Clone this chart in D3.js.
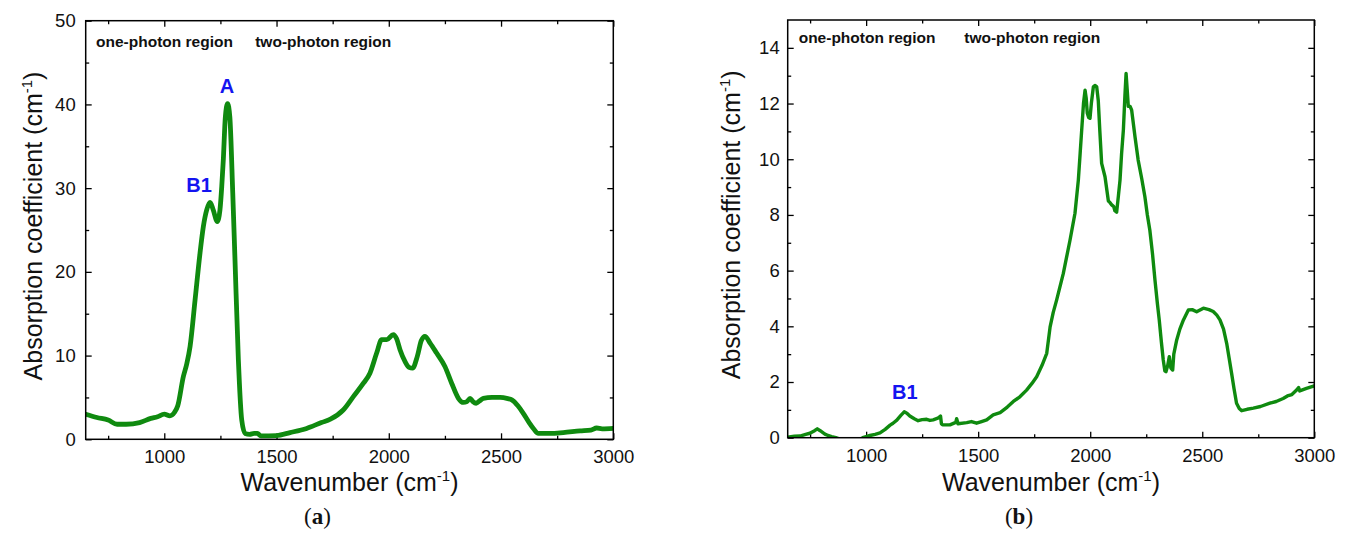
<!DOCTYPE html>
<html>
<head>
<meta charset="utf-8">
<script src="https://cdn.jsdelivr.net/npm/d3@7"></script>
<style>
body { margin: 0; background: #fff; }
svg text { font-family: "Liberation Sans", Arial, sans-serif; }
</style>
</head>
<body>
<div id="chart"></div>
<script>
// panel (a) spectrum
const wnA = [650, 700, 750, 790, 830, 890, 940, 970, 1000, 1025, 1045, 1060, 1085, 1100, 1115, 1137, 1159, 1174, 1189, 1204,
  1218, 1236, 1248, 1256, 1263, 1272, 1282, 1292, 1305, 1315, 1330, 1345, 1360, 1380, 1400, 1415, 1430, 1500, 1560, 1634,
  1700, 1740, 1797, 1842, 1887, 1916, 1946, 1968, 1991, 2020, 2035, 2050, 2072, 2090, 2106, 2127, 2145, 2161, 2184, 2213,
  2250, 2280, 2310, 2332, 2348, 2362, 2375, 2389, 2405, 2421, 2460, 2496, 2530, 2548, 2575, 2599, 2625, 2644, 2666, 2720,
  2777, 2852, 2900, 2926, 2950, 3000];
const absA = [3.0, 2.6, 2.3, 1.8, 1.8, 2.0, 2.5, 2.7, 3.0, 2.8, 3.2, 4.0, 7.5, 9.0, 11.1, 16.6, 22.2, 25.4, 27.4, 28.3,
  27.4, 26.0, 27.4, 30.2, 33.4, 38.5, 40.1, 38.5, 29.4, 21.4, 9.5, 2.3, 0.7, 0.6, 0.7, 0.7, 0.4, 0.45, 0.8, 1.3,
  2.0, 2.4, 3.5, 5.1, 6.7, 7.9, 10.3, 11.9, 11.9, 12.5, 12.0, 10.7, 9.3, 8.6, 8.5, 9.9, 11.8, 12.3, 11.5, 10.3,
  8.7, 6.7, 4.9, 4.4, 4.5, 4.9, 4.5, 4.3, 4.6, 4.9, 5.0, 5.0, 4.85, 4.7, 4.0, 3.1, 2.0, 1.3, 0.7, 0.7,
  0.8, 1.0, 1.1, 1.35, 1.25, 1.3];

// panel (b) spectrum
const wnB = [650, 680, 705, 730, 749, 770, 782, 795, 816, 830, 846, 865, 883, 920, 960, 985, 1000, 1017, 1040, 1062,
  1085, 1107, 1120, 1137, 1155, 1170, 1182, 1195, 1215, 1232, 1250, 1270, 1285, 1299, 1320, 1332, 1336, 1341, 1374, 1400,
  1404, 1410, 1449, 1470, 1493, 1515, 1538, 1567, 1598, 1630, 1657, 1686, 1716, 1740, 1761, 1785, 1806, 1821, 1835, 1850,
  1880, 1895, 1910, 1932, 1947, 1955, 1962, 1970, 1977, 1982, 1987, 1993, 1999, 2005, 2014, 2022, 2029, 2036, 2043, 2051,
  2066, 2081, 2088, 2096, 2105, 2110, 2118, 2126, 2133, 2140, 2148, 2155, 2160, 2165, 2170, 2178, 2185, 2200, 2214, 2230,
  2244, 2255, 2266, 2278, 2289, 2300, 2308, 2318, 2326, 2333, 2338, 2346, 2353, 2360, 2368, 2373, 2386, 2400, 2416, 2438,
  2455, 2475, 2505, 2530, 2549, 2565, 2579, 2595, 2609, 2620, 2631, 2642, 2653, 2665, 2676, 2700, 2728, 2760, 2802, 2830,
  2861, 2880, 2900, 2921, 2930, 2935, 2965, 3000];
const absB = [0.02, 0.05, 0.06, 0.12, 0.16, 0.25, 0.32, 0.25, 0.13, 0.08, 0.04, 0.0, -0.05, -0.15, -0.1, 0.0, 0.04, 0.08, 0.12, 0.17,
  0.3, 0.45, 0.52, 0.63, 0.8, 0.93, 0.88, 0.78, 0.68, 0.61, 0.65, 0.66, 0.62, 0.64, 0.7, 0.78, 0.5, 0.46, 0.46, 0.55,
  0.68, 0.5, 0.54, 0.58, 0.52, 0.58, 0.64, 0.82, 0.9, 1.1, 1.3, 1.47, 1.71, 1.95, 2.19, 2.6, 3.03, 3.98, 4.5, 4.94,
  5.9, 6.5, 7.1, 8.06, 9.25, 10.2, 11.05, 12.0, 12.48, 12.2, 11.65, 11.5, 11.47, 12.0, 12.6, 12.65, 12.6, 12.1, 11.0, 9.85,
  9.37, 8.5, 8.45, 8.36, 8.3, 8.15, 8.1, 8.7, 9.25, 10.2, 11.05, 12.3, 13.08, 12.5, 11.9, 11.9, 11.76, 10.8, 9.97, 9.3,
  8.65, 8.0, 7.46, 6.6, 5.66, 4.8, 4.23, 3.4, 2.79, 2.4, 2.37, 2.6, 2.91, 2.5, 2.43, 3.0, 3.51, 3.9, 4.23, 4.59,
  4.6, 4.52, 4.65, 4.6, 4.53, 4.4, 4.23, 3.9, 3.39, 2.85, 2.31, 1.75, 1.24, 1.05, 0.97, 1.02, 1.06, 1.12, 1.24, 1.3,
  1.41, 1.5, 1.55, 1.71, 1.8, 1.68, 1.77, 1.86];

const xMajor = [1000, 1500, 2000, 2500, 3000];
const xMinor = [750, 1250, 1750, 2250, 2750];
const yMajorA = [0, 10, 20, 30, 40, 50];
const yMinorA = [5, 15, 25, 35, 45];
const yMajorB = [0, 2, 4, 6, 8, 10, 12, 14];
const yMinorB = [1, 3, 5, 7, 9, 11, 13];

const svg = d3.select("#chart")
    .append("svg")
    .attr("width", 1352)
    .attr("height", 534);

const green = "#0f8a0f";

function drawPanel(p) {
    const x = d3.scaleLinear().domain([650, 3000]).range([p.left, p.right]);
    const y = d3.scaleLinear().domain([0, p.yMax]).range([p.bottom, p.top]);
    const g = svg.append("g");

    // tick marks point inward on all four sides
    const addAxis = (axis, tx, ty, labels) => {
        const a = g.append("g").attr("transform", `translate(${tx},${ty})`).call(axis);
        a.select(".domain").remove();
        a.selectAll(".tick line").attr("stroke", "#000").attr("stroke-width", 1.3);
        a.selectAll("text").attr("font-size", labels ? "18.5px" : 0).attr("fill", "#111");
        return a;
    };
    addAxis(d3.axisBottom(x).tickValues(xMajor).tickSize(-6).tickPadding(11).tickFormat(d3.format("d")), 0, p.bottom, true);
    addAxis(d3.axisBottom(x).tickValues(xMinor).tickSize(-3.5).tickFormat(""), 0, p.bottom, false);
    addAxis(d3.axisTop(x).tickValues(xMajor).tickSize(-6).tickFormat(""), 0, p.top, false);
    addAxis(d3.axisTop(x).tickValues(xMinor).tickSize(-3.5).tickFormat(""), 0, p.top, false);
    addAxis(d3.axisLeft(y).tickValues(p.yMajor).tickSize(-6).tickPadding(p.yPad).tickFormat(d3.format("d")), p.left, 0, true);
    addAxis(d3.axisLeft(y).tickValues(p.yMinor).tickSize(-3.5).tickFormat(""), p.left, 0, false);
    addAxis(d3.axisRight(y).tickValues(p.yMajor).tickSize(-6).tickFormat(""), p.right, 0, false);
    addAxis(d3.axisRight(y).tickValues(p.yMinor).tickSize(-3.5).tickFormat(""), p.right, 0, false);

    // clip the curve to the frame
    svg.append("clipPath").attr("id", p.id + "-clip")
        .append("rect")
        .attr("x", p.left).attr("y", p.top)
        .attr("width", p.right - p.left).attr("height", p.bottom - p.top);

    const line = d3.line()
        .x((d, i) => x(p.wn[i]))
        .y(d => y(d))
        .curve(p.curve);

    g.append("path")
        .datum(p.abs)
        .attr("clip-path", `url(#${p.id}-clip)`)
        .attr("fill", "none")
        .attr("stroke", green)
        .attr("stroke-width", p.lineW)
        .attr("stroke-linejoin", "round")
        .attr("stroke-linecap", "round")
        .attr("d", line);

    g.append("rect")
        .attr("x", p.left).attr("y", p.top)
        .attr("width", p.right - p.left).attr("height", p.bottom - p.top)
        .attr("fill", "none")
        .attr("stroke", "#000")
        .attr("stroke-width", 1.5);

    // region notes
    g.append("text").attr("x", x(p.oneX)).attr("y", y(p.noteY))
        .attr("font-size", "15.5px").attr("font-weight", "bold").attr("fill", "#111")
        .text("one-photon region");
    g.append("text").attr("x", x(p.twoX)).attr("y", y(p.noteY))
        .attr("font-size", "15.5px").attr("font-weight", "bold").attr("fill", "#111")
        .text("two-photon region");

    // peak labels
    p.peaks.forEach(k => {
        g.append("text").attr("x", x(k.wn)).attr("y", y(k.v))
            .attr("text-anchor", "middle")
            .attr("font-size", "20px").attr("font-weight", "bold").attr("fill", "#1414f0")
            .text(k.label);
    });

    // axis titles
    const cx = (p.left + p.right) / 2;
    const xt = g.append("text").attr("x", cx).attr("y", 491)
        .attr("text-anchor", "middle").attr("font-size", "25px").attr("fill", "#111");
    xt.append("tspan").text("Wavenumber (cm");
    xt.append("tspan").attr("dy", -10).attr("font-size", "15px").text("-1");
    xt.append("tspan").attr("dy", 10).text(")");

    const yt = g.append("text")
        .attr("transform", `translate(${p.titleX},${(p.top + p.bottom) / 2 - 4}) rotate(-90)`)
        .attr("text-anchor", "middle").attr("font-size", "25px").attr("fill", "#111");
    yt.append("tspan").text("Absorption coefficient (cm");
    yt.append("tspan").attr("dy", -10).attr("font-size", "15px").text("-1");
    yt.append("tspan").attr("dy", 10).text(")");

    const cap = g.append("text").attr("x", cx - 32).attr("y", 524)
        .attr("text-anchor", "middle")
        .attr("font-size", "23px").attr("fill", "#111")
        .style("font-family", "'Liberation Serif', 'DejaVu Serif', serif");
    cap.append("tspan").text("(");
    cap.append("tspan").attr("font-weight", "bold").text(p.tag);
    cap.append("tspan").text(")");
}

drawPanel({
    id: "a", tag: "a", wn: wnA, abs: absA, curve: d3.curveMonotoneX, lineW: 4.8,
    left: 85.7, right: 613.3, top: 20.7, bottom: 439.3, yMax: 50,
    yMajor: yMajorA, yMinor: yMinorA, yPad: 10, titleX: 42,
    oneX: 696, twoX: 1405, noteY: 46.9,
    peaks: [{ label: "A", wn: 1279, v: 41.4 }, { label: "B1", wn: 1155, v: 29.5 }]
});

drawPanel({
    id: "b", tag: "b", wn: wnB, abs: absB, curve: d3.curveLinear, lineW: 3.4,
    left: 787.7, right: 1314.3, top: 20, bottom: 437.7, yMax: 15,
    yMajor: yMajorB, yMinor: yMinorB, yPad: 8, titleX: 740,
    oneX: 699, twoX: 1438, noteY: 14.16,
    peaks: [{ label: "B1", wn: 1173, v: 1.39 }]
});
</script>
</body>
</html>
